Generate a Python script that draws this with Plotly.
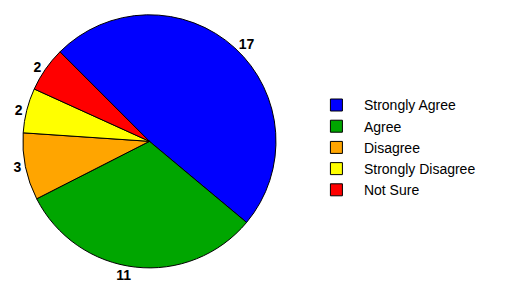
import plotly.graph_objects as go

categories = ["Strongly Agree", "Agree", "Disagree", "Strongly Disagree", "Not Sure"]
values = [17, 11, 3, 2, 2]
colors = ["#0000FF", "#00A600", "#FFA500", "#FFFF00", "#FF0000"]

fig = go.Figure(go.Pie(
    labels=categories,
    values=values,
    sort=False,
    direction="clockwise",
    rotation=-45,
    marker=dict(colors=colors, line=dict(color="black", width=1)),
    textinfo="value",
    textposition="outside",
    textfont=dict(family="Liberation Sans, Arial", size=14, color="black", weight="bold"),
    domain=dict(x=[0.0098, 0.517], y=[0.07, 1.0]),
    showlegend=True,
))

fig.update_layout(
    width=509, height=282,
    margin=dict(l=0, r=0, t=0, b=0),
    paper_bgcolor="white",
    plot_bgcolor="white",
    font=dict(family="Liberation Sans, Arial", size=14, color="black"),
    legend=dict(x=0.583, y=0.513, yanchor="middle", xanchor="left",
                font=dict(size=14), tracegroupgap=0, itemwidth=45),
)

fig.write_html("out.html")
